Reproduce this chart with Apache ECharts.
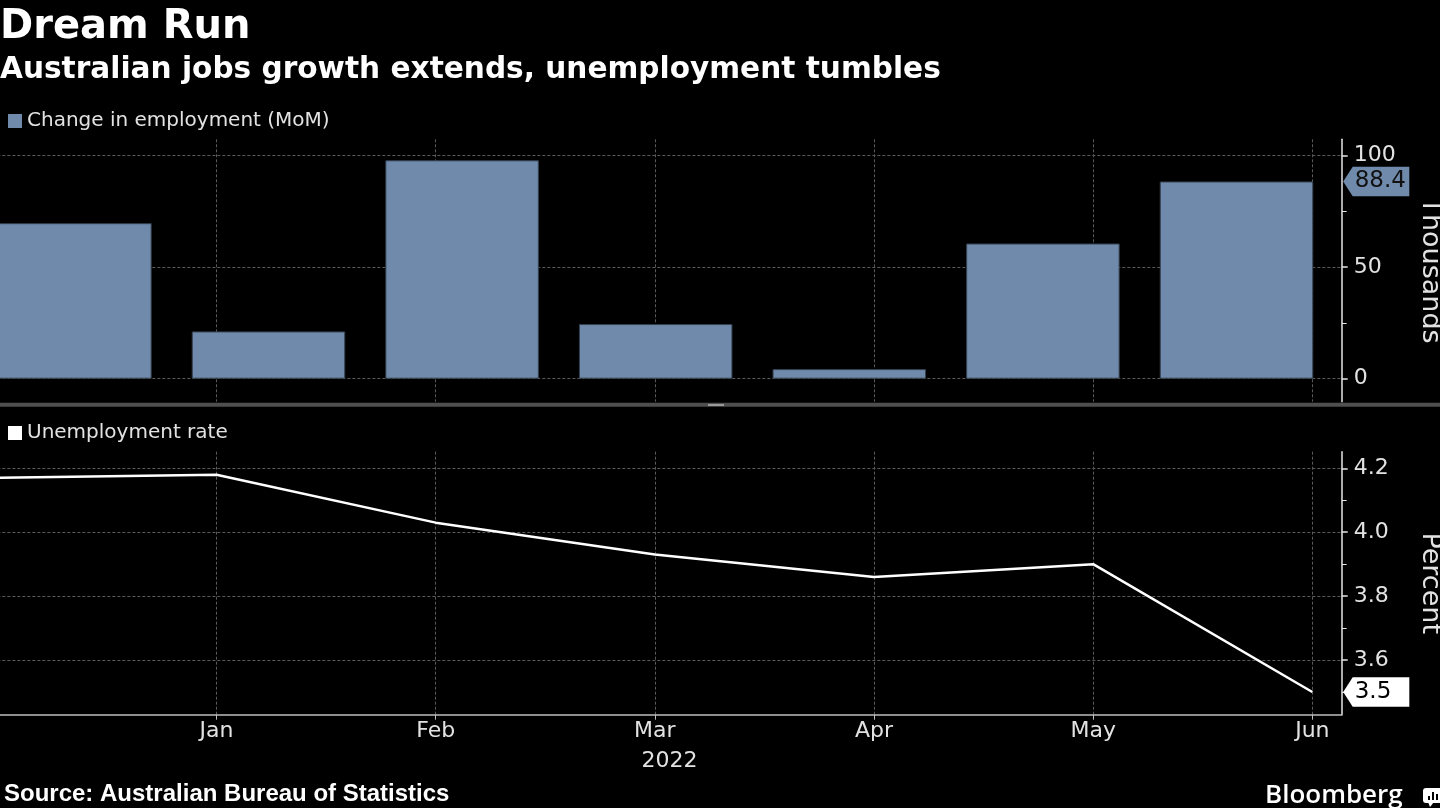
<!DOCTYPE html>
<html>
<head>
<meta charset="utf-8">
<script src="https://cdn.jsdelivr.net/npm/echarts@6/dist/echarts.min.js"></script>
<style>
html,body{margin:0;padding:0;background:#000;}
#chart{width:1440px;height:808px;}
</style>
</head>
<body>
<div id="chart"></div>
<script>
// ---- data ----
const months = ['Dec', 'Jan', 'Feb', 'Mar', 'Apr', 'May', 'Jun'];
const tickLabels = ['', 'Jan', 'Feb', 'Mar', 'Apr', 'May', 'Jun'];
const monthTicks = [1, 2, 3, 4, 5, 6];
const employmentChange = [69.7, 21.2, 97.9, 24.5, 4.3, 60.6, 88.4];
const unemploymentRate = [4.17, 4.18, 4.03, 3.93, 3.86, 3.90, 3.50];
const yearLabel = '2022';
const thousandsTicks = [0, 50, 100];
const thousandsMinorTicks = [25, 75];
const percentTicks = [3.6, 3.8, 4.0, 4.2];
const percentMinorTicks = [3.5, 3.7, 3.9, 4.1];

// ---- styles ----
const FONT = 'DejaVu Sans';
const LABEL = '#e2e2e2';
const AXIS = '#e6e6e6';
const GRIDLINE = { show: true, lineStyle: { color: '#5a5a5a', width: 1, type: [3, 2] } };
const BAR = '#708aab';

const GL = -2.66, GR = 98.3;
const TOP1 = 139.3, H1 = 262.4;
const TOP2 = 451.7, H2 = 263;
const XMAX = 6.134;
const Y1 = [-10.3, 107.3];
const Y2 = [3.429, 4.252];

const chart = echarts.init(document.getElementById('chart'), null, { renderer: 'canvas' });

const linePoints = unemploymentRate.map((v, i) => [i, v]);

function rightAxis(grid, ext, name, ticks, fmt) {
  return {
    gridIndex: grid, type: 'value', position: 'right', min: ext[0], max: ext[1],
    axisLine: { show: true, onZero: false, lineStyle: { color: AXIS, width: 1.5 } },
    axisTick: { show: true, length: 6, customValues: ticks, lineStyle: { color: AXIS, width: 1.5 } },
    minorTick: { show: false },
    axisLabel: { margin: 12, fontFamily: FONT, fontSize: 22, color: LABEL,
      customValues: ticks, formatter: fmt },
    splitLine: GRIDLINE,
    name: name, nameLocation: 'middle', nameRotate: -90, nameGap: 75,
    nameTextStyle: { fontFamily: FONT, fontSize: 27, color: LABEL }
  };
}
function minorAxis(grid, ext, ticks) {
  return {
    gridIndex: grid, type: 'value', position: 'right', min: ext[0], max: ext[1],
    axisLine: { show: false, onZero: false },
    axisTick: { show: true, length: 5, customValues: ticks, lineStyle: { color: AXIS, width: 1 } },
    axisLabel: { show: false }, splitLine: { show: false }
  };
}
function hiddenX(grid) {
  return { gridIndex: grid, type: 'value', min: 0, max: XMAX, show: false };
}

const option = {
  backgroundColor: '#000',
  animation: false,
  title: [
    { text: 'Dream Run', left: 0, top: 8, padding: 0,
      textStyle: { fontFamily: FONT, fontWeight: 'bold', fontSize: 40, color: '#fff' } },
    { text: 'Australian jobs growth extends, unemployment tumbles', left: 0, top: 55, padding: 0,
      textStyle: { fontFamily: FONT, fontWeight: 'bold', fontSize: 29.6, color: '#fff' } },
    { text: 'Source: Australian Bureau of Statistics', left: 4, top: 782, padding: 0,
      textStyle: { fontFamily: 'Liberation Sans', fontWeight: 'bold', fontSize: 24, color: '#fff' } }
  ],
  legend: [
    { data: ['Change in employment (MoM)'], left: 8, top: 111, padding: 0, icon: 'rect',
      itemWidth: 14, itemHeight: 14, selectedMode: false,
      itemStyle: { borderWidth: 0 },
      textStyle: { fontFamily: FONT, fontSize: 20, color: LABEL } },
    { data: ['Unemployment rate'], left: 8, top: 423, padding: 0, icon: 'rect',
      itemWidth: 14, itemHeight: 14, selectedMode: false,
      itemStyle: { borderWidth: 0 },
      textStyle: { fontFamily: FONT, fontSize: 20, color: LABEL } }
  ],
  grid: [
    { left: GL, right: GR, top: TOP1, height: H1, outerBoundsMode: 'none', containLabel: false },
    { left: -21.9, right: 106.7, top: TOP1, height: H1, outerBoundsMode: 'none', containLabel: false },
    { left: GL, right: GR, top: TOP2, height: H2, outerBoundsMode: 'none', containLabel: false },
    { left: GL, right: GR, top: TOP1, height: H1, outerBoundsMode: 'none', containLabel: false },
    { left: GL, right: GR, top: TOP2, height: H2, outerBoundsMode: 'none', containLabel: false }
  ],
  xAxis: [
    { gridIndex: 0, type: 'value', min: 0, max: XMAX,
      axisLine: { show: false, onZero: false },
      axisTick: { show: false, customValues: monthTicks }, axisLabel: { show: false },
      splitLine: GRIDLINE },
    { gridIndex: 1, type: 'category', data: months, show: false },
    { gridIndex: 2, type: 'value', min: 0, max: XMAX,
      axisLine: { show: true, onZero: false, lineStyle: { color: '#bdbdbd', width: 1.5 } },
      axisTick: { show: true, length: 5, customValues: monthTicks,
        lineStyle: { color: '#bdbdbd' } },
      axisLabel: { margin: 6, fontFamily: FONT, fontSize: 22, color: LABEL,
        customValues: monthTicks, formatter: v => tickLabels[Math.round(v)] || '' },
      splitLine: GRIDLINE,
      name: yearLabel, nameLocation: 'middle', nameGap: 36,
      nameTextStyle: { fontFamily: FONT, fontSize: 22, color: LABEL } },
    hiddenX(3),
    hiddenX(4)
  ],
  yAxis: [
    rightAxis(0, Y1, 'Thousands', thousandsTicks),
    { gridIndex: 1, type: 'value', min: Y1[0], max: Y1[1], show: false },
    rightAxis(2, Y2, 'Percent', percentTicks, v => v.toFixed(1)),
    minorAxis(3, Y1, thousandsMinorTicks),
    minorAxis(4, Y2, percentMinorTicks)
  ],
  series: [
    { name: 'Change in employment (MoM)', type: 'bar', xAxisIndex: 1, yAxisIndex: 1,
      data: employmentChange, barWidth: 153.5, color: BAR,
      itemStyle: { color: BAR, borderColor: '#33404f', borderWidth: 1 }, z: 3 },
    { name: 'Unemployment rate', type: 'line', xAxisIndex: 2, yAxisIndex: 2,
      data: linePoints, symbol: 'none', color: '#fff',
      itemStyle: { color: '#fff' },
      lineStyle: { color: '#fff', width: 2.5 }, clip: true, z: 3 }
  ]
};

chart.setOption(option);

// value tags on the right axes, positioned through the library's scales
const axisX = 1341.7;
function tag(value, yAxisIndex, fill, textColor) {
  const y = chart.convertToPixel({ yAxisIndex: yAxisIndex }, value);
  const h = 14.7, bx = axisX + 11, rx = 1409.3;
  return [
    { type: 'polygon', z: 100,
      shape: { points: [[axisX + 1.5, y], [bx, y - h], [rx, y - h], [rx, y + h], [bx, y + h]] },
      style: { fill: fill } },
    { type: 'text', z: 101, x: bx + 2, y: y,
      style: { text: value.toFixed(1), fill: textColor, font: '23px "DejaVu Sans"',
        verticalAlign: 'middle', align: 'left' } }
  ];
}

const graphics = [
  { type: 'rect', shape: { x: 0, y: 402.7, width: 1440, height: 4 }, style: { fill: '#4f4f4f' }, z: 50 },
  { type: 'rect', shape: { x: 708, y: 404, width: 16, height: 2 }, style: { fill: '#9a9a9a' }, z: 51 },
  { type: 'text', x: 1265, y: 796,
    style: { text: 'Bloomberg', fill: '#fff', font: '600 26px "Open Sans"', verticalAlign: 'middle', align: 'left' } },
  { type: 'rect', shape: { x: 1423, y: 788, width: 20, height: 15, r: 3 }, style: { fill: '#fff' } },
  { type: 'polygon', shape: { points: [[1428, 802], [1434, 802], [1430, 807]] }, style: { fill: '#fff' } },
  { type: 'rect', shape: { x: 1428, y: 796, width: 2, height: 4 }, style: { fill: '#000' } },
  { type: 'rect', shape: { x: 1432, y: 792, width: 2, height: 8 }, style: { fill: '#000' } },
  { type: 'rect', shape: { x: 1436, y: 794, width: 2, height: 6 }, style: { fill: '#000' } }
].concat(
  tag(employmentChange[employmentChange.length - 1], 0, BAR, '#111'),
  tag(unemploymentRate[unemploymentRate.length - 1], 2, '#fff', '#000')
);

chart.setOption({ graphic: graphics });
</script>
</body>
</html>
